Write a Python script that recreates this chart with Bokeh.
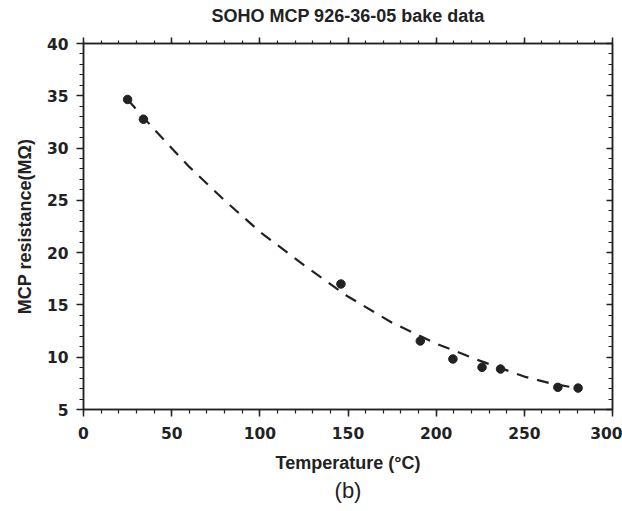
from bokeh.plotting import figure
from bokeh.models import (LinearAxis, SingleIntervalTicker, Range1d, Title,
                          CustomJSTickFormatter, ColumnDataSource)
from bokeh.embed import file_html
from bokeh.resources import INLINE

# measured bake data
temp_c = [25, 34, 146, 191, 209.5, 226, 236.5, 269, 280.5]
resistance = [34.65, 32.76, 17.0, 11.55, 9.83, 9.03, 8.87, 7.12, 7.05]

# dashed trend curve
fit_temp = [25, 40, 60, 80, 100, 125, 150, 175, 200, 225, 250, 265, 281]
fit_res = [34.65, 31.8, 28.2, 25.0, 22.0, 18.8, 15.8, 13.3, 11.3, 9.65, 8.15, 7.5, 7.0]

x_ticks_interval = 50
y_ticks_interval = 5

TICK_FONT = "DejaVu Sans"
LABEL_FONT = "Liberation Sans"
INK = "#222222"

p = figure(width=622, height=511, output_backend="svg", toolbar_location=None,
           x_range=Range1d(0, 300), y_range=Range1d(5, 40),
           min_border_left=83, min_border_right=10, min_border_top=43, min_border_bottom=102,
           background_fill_color="white", border_fill_color="white")
p.title.visible = False

p.xgrid.visible = False
p.ygrid.visible = False
p.outline_line_color = INK
p.outline_line_width = 1.5

src_fit = ColumnDataSource(dict(x=fit_temp, y=fit_res))
p.line("x", "y", source=src_fit, line_color=INK, line_width=2.2, line_dash="12 9")

src_pts = ColumnDataSource(dict(x=temp_c, y=resistance))
p.scatter("x", "y", source=src_pts, size=8.5, marker="circle", fill_color=INK,
          line_color=INK)


def style_axis(ax):
    ax.axis_line_color = INK
    ax.axis_line_width = 1.5
    ax.major_tick_line_color = INK
    ax.minor_tick_line_color = INK
    ax.major_tick_line_width = 1.5
    ax.minor_tick_line_width = 1.2
    ax.major_label_text_font = TICK_FONT
    ax.major_label_text_font_style = "bold"
    ax.major_label_text_font_size = "15.5px"
    ax.major_label_text_color = INK
    ax.axis_label_text_font = LABEL_FONT
    ax.axis_label_text_font_style = "bold"
    ax.axis_label_text_font_size = "18px"
    ax.axis_label_text_color = INK


xax = p.xaxis[0]
xax.ticker = SingleIntervalTicker(interval=x_ticks_interval, num_minor_ticks=5)
style_axis(xax)
xax.major_tick_out = 7
xax.major_tick_in = 0
xax.minor_tick_out = 4
xax.minor_tick_in = 0
xax.major_label_standoff = 10
xax.axis_label = "Temperature (°C)"
xax.axis_label_standoff = 11

yax = p.yaxis[0]
yax.ticker = SingleIntervalTicker(interval=y_ticks_interval, num_minor_ticks=5)
style_axis(yax)
yax.major_tick_out = 7
yax.major_tick_in = 0
yax.minor_tick_out = 4
yax.minor_tick_in = 0
yax.major_label_standoff = 8
yax.axis_label = "MCP resistance(MΩ)"
yax.axis_label_standoff = 9

empty = CustomJSTickFormatter(code="return ''")

# top axis carries the chart title as its label
top = LinearAxis(ticker=SingleIntervalTicker(interval=x_ticks_interval, num_minor_ticks=5),
                 formatter=empty)
style_axis(top)
top.major_tick_out = 6
top.major_tick_in = 0
top.minor_tick_out = 3
top.minor_tick_in = 0
top.major_label_standoff = 0
top.axis_label = "SOHO MCP 926-36-05 bake data"
top.axis_label_standoff = 12
p.add_layout(top, "above")

right = LinearAxis(ticker=SingleIntervalTicker(interval=y_ticks_interval, num_minor_ticks=5),
                   formatter=empty)
style_axis(right)
right.major_tick_out = 0
right.major_tick_in = 6
right.minor_tick_out = 0
right.minor_tick_in = 4
right.major_label_standoff = 0
p.add_layout(right, "right")

sub = Title(text="(b)", align="center", text_font=LABEL_FONT, text_font_size="22px",
            text_font_style="normal", text_color=INK, standoff=1)
p.add_layout(sub, "below")

open("out.html", "w").write(file_html(p, INLINE))
